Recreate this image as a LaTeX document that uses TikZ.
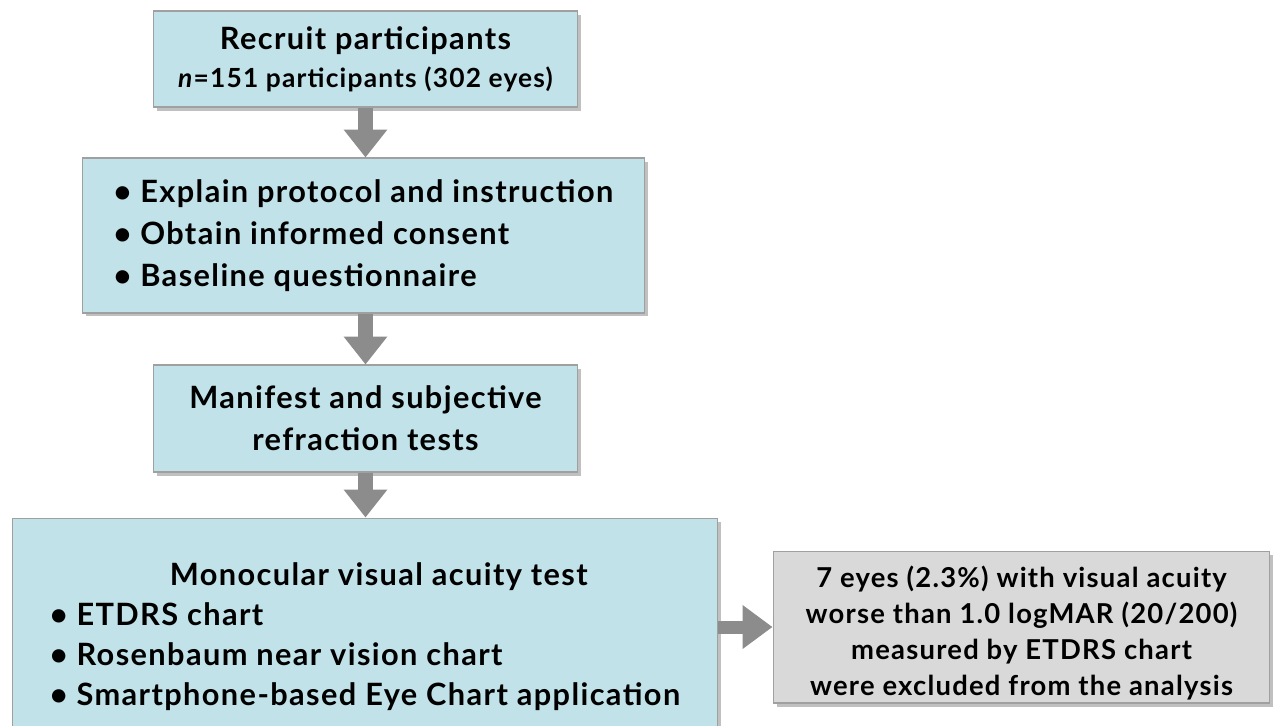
\documentclass[tikz,border=0pt]{standalone}
\usepackage{fontspec}
\setmainfont{Lato}[LetterSpace=4.5]
\usetikzlibrary{arrows.meta,shadows}
\definecolor{boxblue}{HTML}{C0E2E8}
\definecolor{boxgray}{HTML}{D9D9D9}
\definecolor{edgegray}{HTML}{A0A0A0}
\definecolor{arrowgray}{HTML}{8C8C8C}
\begin{document}
\begin{tikzpicture}[x=0.02cm,y=-0.02cm,
  box/.style={draw=edgegray, line width=0.6pt, fill=boxblue,
    drop shadow={shadow xshift=0.07cm, shadow yshift=-0.07cm, opacity=0.35, fill=black!70},
    inner sep=0pt, font=\bfseries\fontsize{17.5}{23.9}\selectfont},
  greybox/.style={box, fill=boxgray, align=center, font=\bfseries\fontsize{15.6}{20.5}\selectfont},
  flowdown/.style={draw=arrowgray, line width=0.3cm, -{Triangle[width=0.84cm,length=0.56cm]}},
  flowright/.style={draw=arrowgray, line width=0.26cm, -{Triangle[width=0.84cm,length=0.6cm]}}]
\useasboundingbox[fill=white] (0,0) rectangle (1281,725);
\node[box, minimum width=8.5cm, minimum height=1.92cm, align=center,
  font=\bfseries\fontsize{17.5}{21.6}\selectfont] (b1) at (365.5,59)
  {Recruit participants\\{\fontsize{15}{21.6}\selectfont\textit{n}=151 participants (302 eyes)}};
\node[box, minimum width=11.26cm, minimum height=3.1cm, align=left] (b2) at (363.5,235.5)
  {• Explain protocol and instruction\\ • Obtain informed consent\\ • Baseline questionnaire};
\node[box, minimum width=8.5cm, minimum height=2.14cm, align=center] (b3) at (365.5,418.5)
  {Manifest and subjective\\ refraction tests};
\node[box, minimum width=14.12cm, minimum height=4.76cm, align=left,
  font=\bfseries\fontsize{17.5}{22.8}\selectfont] (b4) at (365,637)
  {\hspace*{2.4cm}Monocular visual acuity test\\ • ETDRS chart\\ • Rosenbaum near vision chart\\ • Smartphone-based Eye Chart application};
\node[greybox, minimum width=9.94cm, minimum height=3.04cm] (b5) at (1021.5,627)
  {\rule{0pt}{19pt}7 eyes (2.3\%) with visual acuity\\ worse than 1.0 logMAR (20/200)\\ measured by ETDRS chart\\ were excluded from the analysis};
\draw[flowdown] (b1.south) -- (b1.south |- b2.north);
\draw[flowdown] (b2.south -| b1.south) -- (b3.north);
\draw[flowdown] (b3.south) -- (b3.south |- b4.north);
\draw[flowright] (b4.east |- b5.west) -- (b5.west);
\end{tikzpicture}
\end{document}
